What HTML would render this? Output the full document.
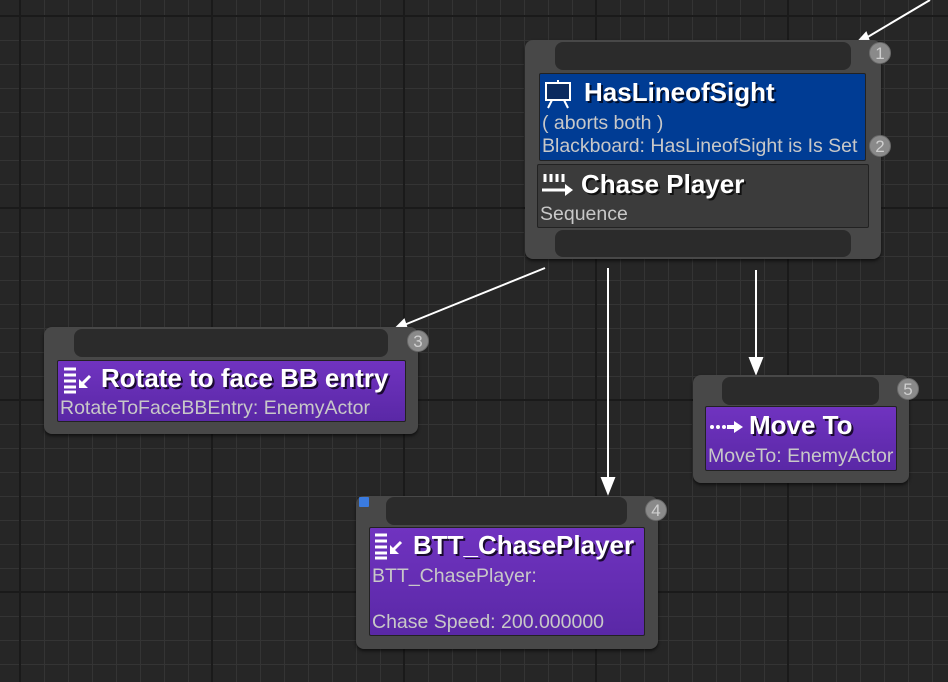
<!DOCTYPE html>
<html><head><meta charset="utf-8"><style>
html,body{margin:0;padding:0}
body{width:948px;height:682px;position:relative;overflow:hidden;background-color:#262626;
background-image:
linear-gradient(to right,#1a1a1a 2px,transparent 2px),
linear-gradient(to bottom,#1a1a1a 2px,transparent 2px),
linear-gradient(to right,#343434 1px,transparent 1px),
linear-gradient(to bottom,#343434 1px,transparent 1px);
background-size:192px 192px,192px 192px,24px 24px,24px 24px;
background-position:19px 0,0 15px,20px 0,0 16px;
font-family:"Liberation Sans",sans-serif;}
.a{position:absolute;box-sizing:border-box}
.outer{background:#484848;border-radius:8px;box-shadow:0 2px 3px rgba(0,0,0,.6)}
.bar{background:#2b2b2b;border-radius:8px}
.badge{width:22px;height:22px;border-radius:50%;background:#8a8a8a;color:#cfcfcf;font-size:17px;text-align:center;line-height:22px;border:1px solid #6a6a6a}
.purple{background:linear-gradient(#7033c0,#5a28a6);border:1px solid #222;border-radius:2px}
.blue{background:#003c94;border:1px solid #222;border-radius:2px}
.grey{background:#3b3b3b;border:1px solid #222;border-radius:2px}
.t{position:absolute;color:#fff;font-weight:bold;font-size:26px;text-shadow:2px 2px 0 #1a0a30;white-space:nowrap}
.s{position:absolute;color:#c8c8c8;font-size:19.5px;white-space:nowrap}
</style></head><body>

<svg class="a" style="left:0;top:0" width="948" height="682">
<g stroke="#fff" stroke-width="2" fill="#fff">
<line x1="930" y1="0" x2="866" y2="38"/><polygon points="856,44 866,33 869,41"/>
<line x1="545" y1="268" x2="404" y2="325"/><polygon points="394,330 404,320 407,329"/>
<line x1="608" y1="268" x2="608" y2="480"/><polygon points="602,478 614,478 608,493"/>
<line x1="756" y1="270" x2="756" y2="360"/><polygon points="750,358 762,358 756,373"/>
</g></svg>

<!-- Node 1 -->
<div class="a outer" style="left:525px;top:40px;width:356px;height:219px"></div>
<div class="a bar" style="left:555px;top:42px;width:296px;height:28px"></div>
<div class="a bar" style="left:555px;top:230px;width:296px;height:27px"></div>
<div class="a blue" style="left:539px;top:73px;width:327px;height:88px"></div>
<svg class="a" style="left:544px;top:80px" width="30" height="30"><rect x="2" y="3" width="24" height="17" fill="#0b2a5e" stroke="#fff" stroke-width="2"/><line x1="14" y1="0" x2="14" y2="3" stroke="#fff" stroke-width="2"/><line x1="8" y1="20" x2="4" y2="28" stroke="#fff" stroke-width="2"/><line x1="20" y1="20" x2="24" y2="28" stroke="#fff" stroke-width="2"/></svg>
<div class="t" style="left:584px;top:77px;text-shadow:2px 2px 0 #001030">HasLineofSight</div>
<div class="s" style="left:542px;top:112px">( aborts both )</div>
<div class="s" style="left:542px;top:135px">Blackboard: HasLineofSight is Is Set</div>
<div class="a grey" style="left:537px;top:164px;width:332px;height:64px"></div>
<svg class="a" style="left:541px;top:172px" width="34" height="26"><g stroke="#fff" stroke-width="3"><line x1="4" y1="2" x2="4" y2="10"/><line x1="10" y1="2" x2="10" y2="10"/><line x1="16" y1="2" x2="16" y2="10"/><line x1="22" y1="2" x2="22" y2="10"/><line x1="1" y1="18" x2="24" y2="18"/></g><polygon points="24,12 32,18 24,24" fill="#fff"/></svg>
<div class="t" style="left:581px;top:169px;text-shadow:2px 2px 0 #111">Chase Player</div>
<div class="s" style="left:540px;top:203px">Sequence</div>
<div class="a badge" style="left:869px;top:42px">1</div>
<div class="a badge" style="left:869px;top:135px">2</div>

<!-- Node 3 -->
<div class="a outer" style="left:44px;top:327px;width:374px;height:107px"></div>
<div class="a bar" style="left:74px;top:329px;width:314px;height:28px"></div>
<div class="a purple" style="left:57px;top:360px;width:349px;height:62px"></div>
<svg class="a" style="left:62px;top:366px" width="32" height="28"><g stroke="#fff" stroke-width="3"><line x1="2" y1="3" x2="14" y2="3"/><line x1="2" y1="9" x2="14" y2="9"/><line x1="2" y1="15" x2="14" y2="15"/><line x1="2" y1="21" x2="14" y2="21"/><line x1="2" y1="26" x2="14" y2="26"/><line x1="28" y1="10" x2="20" y2="18"/></g><polygon points="17,13 17,22 26,22" fill="#fff"/></svg>
<div class="t" style="left:101px;top:363px">Rotate to face BB entry</div>
<div class="s" style="left:60px;top:397px">RotateToFaceBBEntry: EnemyActor</div>
<div class="a badge" style="left:407px;top:330px">3</div>

<!-- Node 5 -->
<div class="a outer" style="left:693px;top:375px;width:216px;height:108px"></div>
<div class="a bar" style="left:722px;top:377px;width:157px;height:28px"></div>
<div class="a purple" style="left:705px;top:406px;width:192px;height:65px"></div>
<svg class="a" style="left:709px;top:418px" width="36" height="18"><g fill="#fff"><circle cx="3" cy="9" r="2"/><circle cx="9" cy="9" r="2"/><circle cx="15" cy="9" r="2"/><rect x="18" y="7" width="8" height="4"/><polygon points="25,3 34,9 25,15"/></g></svg>
<div class="t" style="left:749px;top:410px">Move To</div>
<div class="s" style="left:708px;top:445px">MoveTo: EnemyActor</div>
<div class="a badge" style="left:897px;top:378px">5</div>

<!-- Node 4 -->
<div class="a outer" style="left:356px;top:496px;width:302px;height:153px"></div>
<div class="a bar" style="left:386px;top:497px;width:241px;height:28px"></div>
<div class="a" style="left:359px;top:497px;width:10px;height:10px;background:#3a7be0;border-radius:1px"></div>
<div class="a purple" style="left:369px;top:527px;width:276px;height:109px"></div>
<svg class="a" style="left:373px;top:532px" width="32" height="28"><g stroke="#fff" stroke-width="3"><line x1="2" y1="3" x2="14" y2="3"/><line x1="2" y1="9" x2="14" y2="9"/><line x1="2" y1="15" x2="14" y2="15"/><line x1="2" y1="21" x2="14" y2="21"/><line x1="2" y1="26" x2="14" y2="26"/><line x1="28" y1="10" x2="20" y2="18"/></g><polygon points="17,13 17,22 26,22" fill="#fff"/></svg>
<div class="t" style="left:413px;top:530px">BTT_ChasePlayer</div>
<div class="s" style="left:372px;top:565px">BTT_ChasePlayer:</div>
<div class="s" style="left:372px;top:611px">Chase Speed: 200.000000</div>
<div class="a badge" style="left:645px;top:499px">4</div>

</body></html>
